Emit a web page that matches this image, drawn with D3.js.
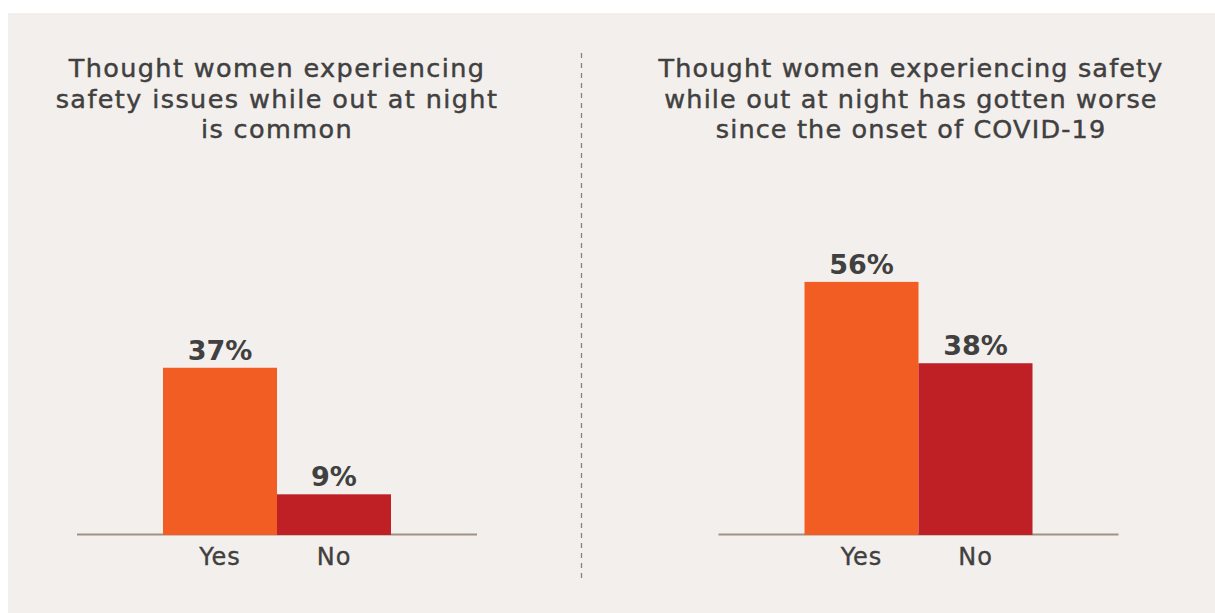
<!DOCTYPE html>
<html>
<head>
<meta charset="utf-8">
<script src="https://cdn.jsdelivr.net/npm/d3@7"></script>
<style>
  body { margin: 0; background: #ffffff; }
  svg { display: block; }
  text { font-family: "DejaVu Sans", sans-serif; fill: #404040; }
</style>
</head>
<body>
<div id="chart"></div>
<script>
/* Two small bar charts side by side */

const categories = ["Yes", "No"];
const commonValues = [37, 9];
const covidValues = [56, 38];
const commonTitle = ["Thought women experiencing", "safety issues while out at night", "is common"];
const covidTitle = ["Thought women experiencing safety", "while out at night has gotten worse", "since the onset of COVID-19"];

const width = 1215,
      height = 613;

const colors = ["#f15d22", "#be2026"];

let svg = d3.select("#chart")
            .append("svg")
            .attr("width", width)
            .attr("height", height);

// panel background
svg.append("rect")
   .attr("x", 8).attr("y", 13)
   .attr("width", width - 8).attr("height", height - 13)
   .attr("fill", "#f3efec");

// dashed divider
svg.append("line")
   .attr("x1", 581.5).attr("x2", 581.5)
   .attr("y1", 53).attr("y2", 583)
   .attr("stroke", "#8c8079")
   .attr("stroke-width", 1.3)
   .attr("stroke-dasharray", "5,5");

/* y scale shared by both charts */
let y = d3.scaleLinear()
          .domain([0, 100])
          .range([535, 83]);

function drawPanel(values, title, center, titleCenter, spacing) {
    let g = svg.append("g");

    let x = d3.scaleBand()
              .domain(categories)
              .range([center - 114, center + 114])
              .padding(0);

    // title
    g.append("text")
     .attr("text-anchor", "middle")
     .attr("font-size", 25.5)
     .attr("letter-spacing", spacing)
     .attr("stroke", "#404040")
     .attr("stroke-width", 0.45)
     .selectAll("tspan")
     .data(title)
     .join("tspan")
     .attr("x", titleCenter)
     .attr("y", (d, i) => 77 + i * 30.5)
     .text(d => d);

    // baseline
    g.append("line")
     .attr("x1", center - 200).attr("x2", center + 200)
     .attr("y1", y(0) - 0.5).attr("y2", y(0) - 0.5)
     .attr("stroke", "#a09282")
     .attr("stroke-width", 2.2);

    let data = categories.map((c, i) => ({cat: c, val: values[i], color: colors[i]}));

    let bar = g.selectAll(".bar")
               .data(data)
               .join("g")
               .attr("class", "bar");

    bar.append("rect")
       .attr("fill", d => d.color)
       .attr("x", d => x(d.cat))
       .attr("width", x.bandwidth())
       .attr("y", d => y(d.val))
       .attr("height", d => y(0) - y(d.val));

    bar.append("text")
       .text(d => d.val + "%")
       .attr("x", d => x(d.cat) + x.bandwidth() / 2)
       .attr("y", d => y(d.val) - 8)
       .attr("text-anchor", "middle")
       .attr("font-size", 27)
       .attr("font-weight", "bold");

    // category labels
    const xAxis = gg => gg
          .attr("transform", `translate(0, ${y(0)})`)
          .call(d3.axisBottom(x).tickSize(0).tickPadding(13))
          .call(a => a.select(".domain").remove())
          .call(a => a.selectAll("text")
                      .attr("font-size", 24)
                      .attr("letter-spacing", 1)
                      .attr("font-family", "DejaVu Sans, sans-serif")
                      .attr("fill", "#404040")
                      .attr("stroke", "#404040")
                      .attr("stroke-width", 0.35));

    g.append("g").call(xAxis);
}

drawPanel(commonValues, commonTitle, 277, 277, 1.4);
drawPanel(covidValues, covidTitle, 918.5, 911, 1.15);
</script>
</body>
</html>
